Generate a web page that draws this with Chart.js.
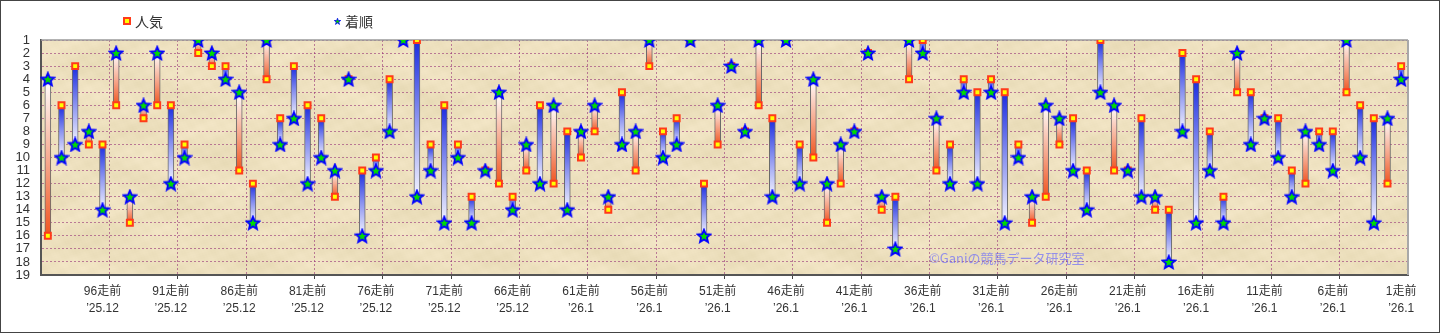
<!DOCTYPE html>
<html lang="ja">
  <head>
    <meta charset="UTF-8">
    <title>人気と着順</title>
    <script src="https://cdn.jsdelivr.net/npm/chart.js"></script>
    <style>
      body{margin: 0; background: #fff;}
      #wrap{position: relative; width: 1440px; height: 333px; box-sizing: border-box; border: 1px solid #444; background: #fff;
        font-family: "Liberation Sans", "Noto Sans CJK JP", sans-serif;}
      #box{position: absolute; left: 0; top: 0; width: 1438px; height: 331px;}
      .lg{position: absolute; top: 12px; height: 16px; display: flex; align-items: center; font-size: 14px; color: #333;
        font-family: "Noto Sans CJK JP", sans-serif;}
      .sq{display: inline-block; width: 4px; height: 4px; background: #ff0; border: 2px solid #ff3a1a; margin-right: 4px;}
      .st{display: inline-block; width: 7px; height: 7px; margin-right: 4px;}
      #mark{position: absolute; left: 928px; top: 249px; font-size: 13px; line-height: 16px; color: rgba(100, 100, 255, 0.65);
        font-family: "Noto Sans CJK JP", sans-serif;}
    </style>
  </head>
  <body>
    <div id="wrap">
      <div id="box"><canvas id="myChart"></canvas></div>
      <div class="lg" style="left: 122px;"><span class="sq"></span>人気</div>
      <div class="lg" style="left: 333px;">
        <svg class="st" viewBox="0 0 14 14"><polygon points="7,0.5 8.6,5 13.4,5 9.5,8 11,12.8 7,9.9 3,12.8 4.5,8 0.6,5 5.4,5" fill="#0c0" stroke="#00f" stroke-width="1.6"/></svg>着順
      </div>
      <div id="mark">©Ganiの競馬データ研究室</div>
    </div>
    <script>
      // 100走前 → 1走前
      const races = [];
      for (let n = 100; n >= 1; n--) races.push(n + "走前");

      // 人気 (square) / 着順 (star), oldest first
      const ninki = [
        16, 6, 3, 9, 9, 6, 15, 7, 6, 6,
        9, 2, 3, 3, 11, 12, 4, 7, 3, 6,
        7, 13, 4, 11, 10, 4, 1, 1, 9, 6,
        9, 13, 11, 12, 13, 11, 6, 12, 8, 10,
        8, 14, 5, 11, 3, 8, 7, 1, 12, 9,
        3, 8, 6, 7, 1, 9, 10, 15, 12, 8,
        2, 14, 13, 4, 1, 11, 9, 4, 5, 4,
        5, 9, 15, 13, 9, 7, 11, 1, 11, 11,
        7, 14, 14, 2, 4, 8, 13, 5, 5, 7,
        7, 11, 12, 8, 8, 5, 6, 7, 12, 3
      ];
      const chakujun = [
        4, 10, 9, 8, 14, 2, 13, 6, 2, 12,
        10, 1, 2, 4, 5, 15, 1, 9, 7, 12,
        10, 11, 4, 16, 11, 8, 1, 13, 11, 15,
        10, 15, 11, 5, 14, 9, 12, 6, 14, 8,
        6, 13, 9, 8, 1, 10, 9, 1, 16, 6,
        3, 8, 1, 13, 1, 12, 4, 12, 9, 8,
        2, 13, 17, 1, 2, 7, 12, 5, 12, 5,
        15, 10, 13, 6, 7, 11, 14, 5, 6, 11,
        13, 13, 18, 8, 15, 11, 15, 2, 9, 7,
        10, 13, 8, 9, 11, 1, 10, 15, 7, 4
      ];

      // tick labels every 5 races
      const tickRaces = ["96走前", "91走前", "86走前", "81走前", "76走前", "71走前", "66走前", "61走前", "56走前", "51走前",
        "46走前", "41走前", "36走前", "31走前", "26走前", "21走前", "16走前", "11走前", "6走前", "1走前"];
      const tickDates = ["’25.12", "’25.12", "’25.12", "’25.12", "’25.12", "’25.12", "’25.12", "’26.1", "’26.1", "’26.1",
        "’26.1", "’26.1", "’26.1", "’26.1", "’26.1", "’26.1", "’26.1", "’26.1", "’26.1", "’26.1"];

      Chart.defaults.font.family = "'Liberation Sans', 'Noto Sans CJK JP', sans-serif";

      // green star with blue edge
      function makeStar(size, lw){
        const c = document.createElement("canvas");
        c.width = c.height = size;
        const g = c.getContext("2d");
        const R = size / 2 - lw / 2 - 0.3, r = R * 0.45;
        g.beginPath();
        for(let k = 0; k < 10; k++){
          const rad = k % 2 ? r : R;
          const a = -Math.PI / 2 + k * Math.PI / 5;
          g.lineTo(size / 2 + rad * Math.cos(a), size / 2 + 0.6 + rad * Math.sin(a));
        }
        g.closePath();
        g.fillStyle = "#00dd00";
        g.fill();
        g.lineWidth = lw;
        g.strokeStyle = "#0000ff";
        g.stroke();
        return c;
      }
      const starImg = makeStar(16, 1.8);

      // parchment background
      function makePaper(w, h){
        const c = document.createElement("canvas");
        c.width = w; c.height = h;
        const g = c.getContext("2d");
        const img = g.createImageData(w, h);
        for(let y = 0; y < h; y++){
          for(let x = 0; x < w; x++){
            const t = Math.sin(x * 0.05 + Math.sin(y * 0.07) * 2.4)
              + 0.8 * Math.sin(y * 0.11 + Math.sin(x * 0.027) * 2.1)
              + 0.5 * Math.sin((x + 2 * y) * 0.23) + 0.4 * Math.sin(x * 0.41 - y * 0.37)
              + 0.3 * Math.sin(x * 1.3 + y * 0.9) * Math.sin(y * 1.7 - x * 0.6);
            const d = t * 2.2;
            const p = (y * w + x) * 4;
            img.data[p] = 237 + d;
            img.data[p + 1] = 224 + d;
            img.data[p + 2] = 190 + d * 1.4;
            img.data[p + 3] = 255;
          }
        }
        g.putImageData(img, 0, 0);
        return c;
      }
      let paper = null;

      const plotFrame = {
        id: "plotFrame",
        beforeDraw(chart){
          const a = chart.chartArea, ctx = chart.ctx;
          if(!paper) paper = makePaper(Math.ceil(a.right - a.left), Math.ceil(a.bottom - a.top));
          ctx.drawImage(paper, a.left, a.top);
        },
        beforeDatasetsDraw(chart){
          const a = chart.chartArea, ctx = chart.ctx;
          ctx.save();
          ctx.strokeStyle = "#9a9a9a";
          ctx.lineWidth = 1.5;
          ctx.beginPath();
          ctx.moveTo(a.left, a.top);
          ctx.lineTo(a.right, a.top);
          ctx.stroke();
          ctx.lineWidth = 2;
          ctx.strokeStyle = "#a8a8a8";
          ctx.beginPath();
          ctx.moveTo(a.right, a.top);
          ctx.lineTo(a.right, a.bottom);
          ctx.stroke();
          ctx.restore();
        }
      };

      // gradient from the 人気 end (solid) to the 着順 end (white)
      function barFill(c){
        const chart = c.chart, i = c.dataIndex;
        if(!chart.chartArea || i === undefined) return "#fff";
        const y = chart.scales.y;
        const p0 = y.getPixelForValue(ninki[i]);
        const p1 = y.getPixelForValue(chakujun[i]);
        if(p0 === p1) return "#fff";
        const g = chart.ctx.createLinearGradient(0, p0, 0, p1);
        if(ninki[i] > chakujun[i]){
          g.addColorStop(0, "#f0541f");
          g.addColorStop(0.45, "#f6a488");
          g.addColorStop(1, "#ffffff");
        }else{
          g.addColorStop(0, "#1a2be0");
          g.addColorStop(0.5, "#8c94f0");
          g.addColorStop(1, "#f4f4ff");
        }
        return g;
      }

      const gridPurple = "rgba(150, 50, 120, 0.6)";

      new Chart(document.getElementById("myChart"), {
        type: "bar",
        data: {
          labels: races,
          datasets: [
            {
              type: "line",
              label: "着順",
              data: chakujun,
              showLine: false,
              pointStyle: starImg,
              pointRadius: 7,
              pointHoverRadius: 7,
              order: 1
            },
            {
              type: "line",
              label: "人気",
              data: ninki,
              showLine: false,
              pointStyle: "rect",
              pointRadius: 4.2,
              pointHoverRadius: 4.2,
              pointBackgroundColor: "#ffff00",
              pointBorderColor: "#ff3a1a",
              pointBorderWidth: 2,
              order: 2
            },
            {
              type: "bar",
              label: "差",
              data: ninki.map((v, i) => [v, chakujun[i]]),
              barThickness: 6,
              backgroundColor: barFill,
              borderColor: "#6a6a6a",
              borderWidth: 1,
              borderSkipped: false,
              order: 3
            }
          ]
        },
        options: {
          responsive: true,
          maintainAspectRatio: false,
          animation: false,
          layout: {padding: {left: 14, top: 39, right: 31, bottom: 15}},
          plugins: {legend: {display: false}, tooltip: {enabled: false}},
          scales: {
            x: {
              offset: true,
              grid: {
                offset: true,
                tickLength: 4,
                color: c => (c.index % 5 === 0 && c.index > 0 && c.index < 100) ? gridPurple : "rgba(0,0,0,0)",
                tickColor: c => (c.index % 5 === 0 && c.index > 0 && c.index < 100) ? "#444" : "rgba(0,0,0,0)"
              },
              border: {color: "#555", width: 2, dash: [2, 2]},
              ticks: {
                autoSkip: false,
                maxRotation: 0,
                minRotation: 0,
                padding: 4,
                color: "#333",
                font: {size: 12, lineHeight: 1.4},
                callback: (v, i) => i % 5 === 4 ? [tickRaces[(i - 4) / 5], tickDates[(i - 4) / 5]] : ""
              },
              afterFit: s => { s.height = 42; }
            },
            y: {
              reverse: true,
              min: 1,
              max: 19,
              grid: {color: gridPurple, drawTicks: false},
              border: {color: "#555", width: 2, dash: [2, 2]},
              ticks: {stepSize: 1, autoSkip: false, padding: 11, color: "#333", font: {size: 13}},
              afterFit: s => { s.width = 26; }
            }
          }
        },
        plugins: [plotFrame]
      });
    </script>
  </body>
</html>
